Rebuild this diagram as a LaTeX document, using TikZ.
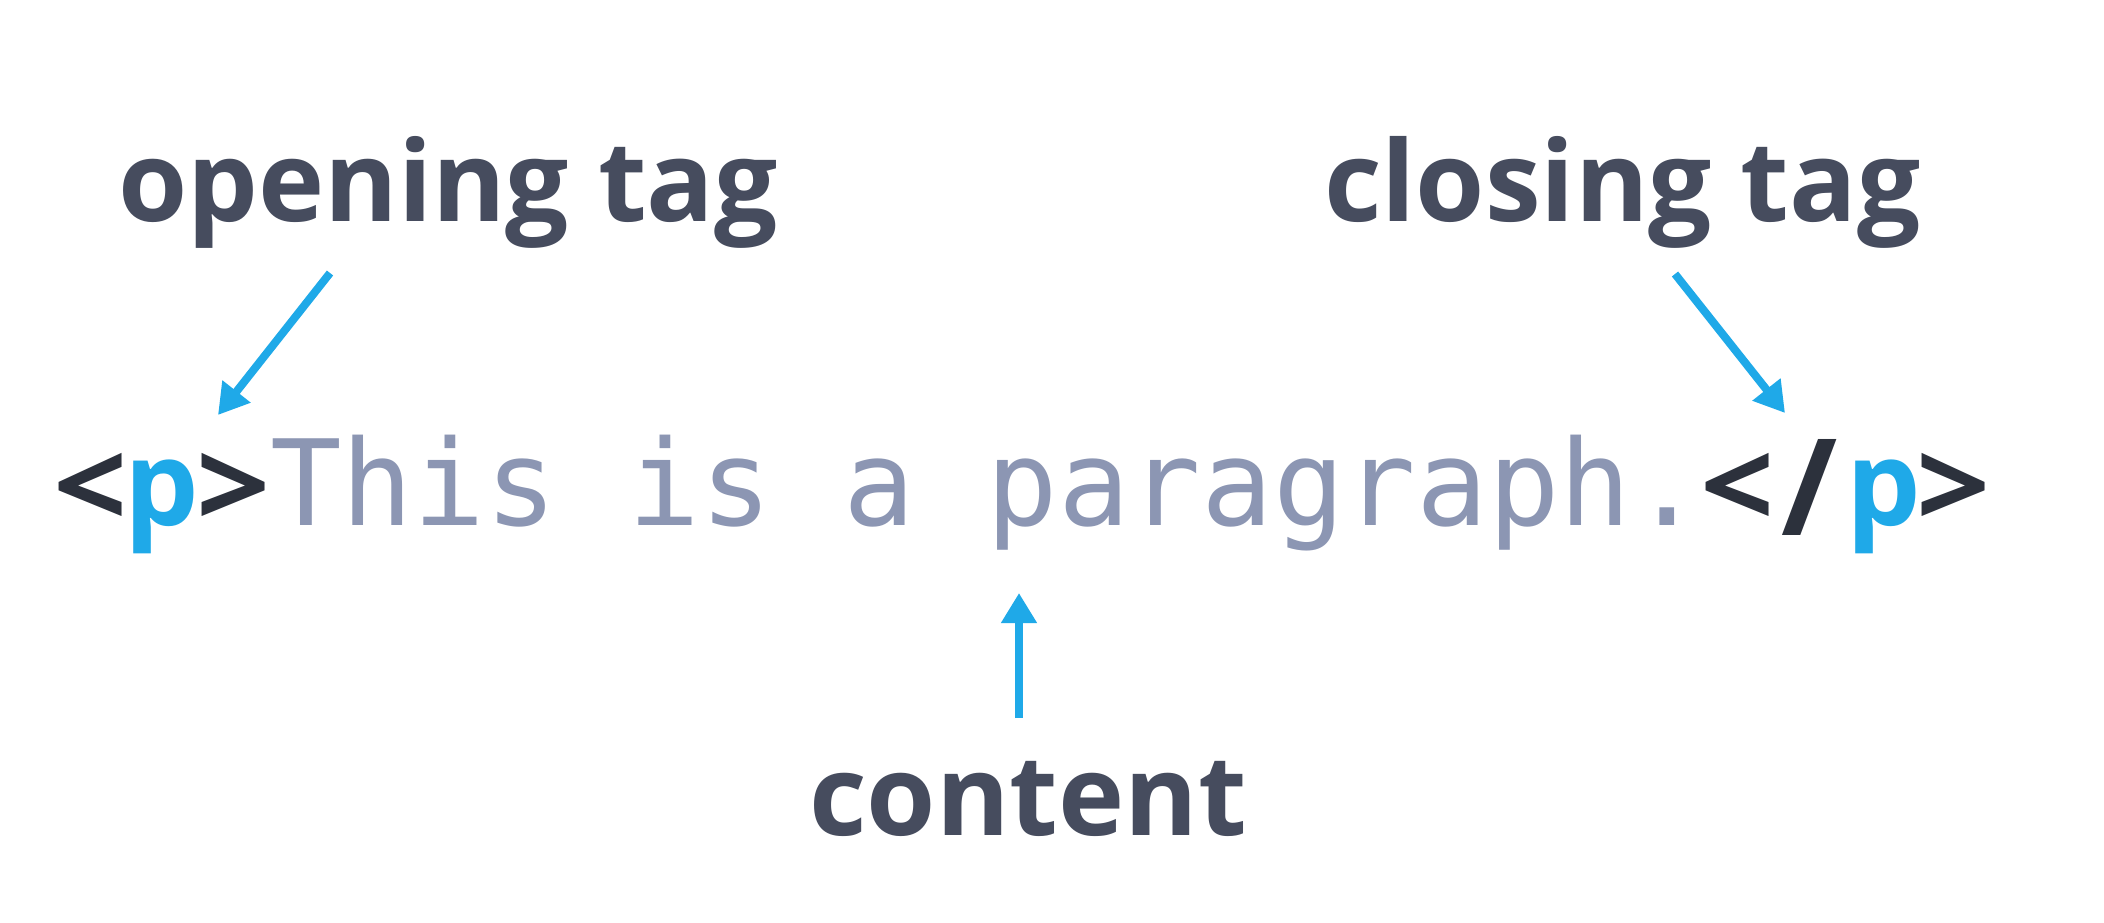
\documentclass[tikz,border=0pt]{standalone}
\usepackage{fontspec}
\setmainfont{Open Sans}
\newfontfamily\codefont{DejaVu Sans Mono}
\usetikzlibrary{arrows.meta}
\definecolor{labelc}{HTML}{464C5E}
\definecolor{tagc}{HTML}{2C313C}
\definecolor{bluec}{HTML}{1FA9E8}
\definecolor{codec}{HTML}{8C96B3}
\newcommand{\brk}[1]{\scalebox{1.1}[1.02]{#1}}
\tikzset{
  lbl/.style={inner sep=0pt, anchor=base west, text=labelc, font=\fontsize{112}{130}\selectfont\bfseries},
  tagtxt/.style={inner sep=0pt, anchor=base west, text=tagc, font=\fontsize{118}{130}\selectfont\bfseries},
  tagp/.style={tagtxt, text=bluec},
  codetxt/.style={inner sep=0pt, anchor=base west, text=codec, font=\fontsize{119}{130}\selectfont\codefont},
  pointer/.style={draw=bluec, line width=8pt, -{Triangle[length=30pt,width=34pt]}}
}
\begin{document}
\begin{tikzpicture}[x=1pt,y=-1pt]
\useasboundingbox[fill=white] (0,0) rectangle (2104,922);
\node[lbl] (ot) at (118,221) {opening tag};
\node[lbl] (ct) at (1324,221) {closing tag};
\node[lbl] (cn) at (809,835) {content};
% opening tag <p>
\node[tagtxt] (lt1) at (53,528) {\brk{<}};
\node[tagp] (p1) at (124,525) {p};
\node[tagtxt] (gt1) at (196,528) {\brk{>}};
% content
\node[codetxt] (txt) at (270,525) {This is a paragraph.};
% closing tag </p>
\node[tagtxt] (lt2) at (1700,528) {\brk{<}};
\node[tagtxt] (sl2) at (1781,535) {\scalebox{1.15}[1.14]{/}};
\node[tagp] (p2) at (1846,525) {p};
\node[tagtxt] (gt2) at (1916,528) {\brk{>}};
\coordinate (a1s) at (330,273);
\coordinate (a1e) at (218,415);
\coordinate (a2s) at (1675,274);
\coordinate (a2e) at (1785,413);
\coordinate (a3s) at (1019,718);
\coordinate (a3e) at (1019,593);
\draw[pointer] (a1s) -- (a1e);
\draw[pointer] (a2s) -- (a2e);
\draw[pointer] (a3s) -- (a3e);
\end{tikzpicture}
\end{document}
